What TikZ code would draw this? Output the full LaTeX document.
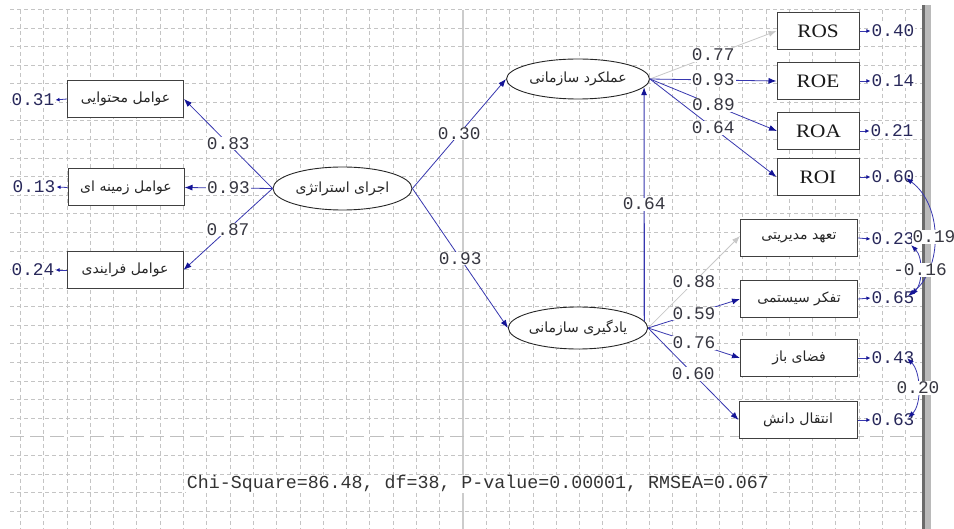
\documentclass[tikz,border=0pt]{standalone}
\usepackage{fontspec}
\newfontfamily\fa[Script=Arabic]{DejaVu Sans}
\newfontfamily\monof{Liberation Mono}
\newfontfamily\rofont[FakeStretch=1.12]{Liberation Serif}
\TeXXeTstate=1
\usetikzlibrary{arrows.meta,shapes.geometric}
\definecolor{pathblue}{RGB}{55,55,175}
\definecolor{tipblue}{RGB}{20,20,150}
\definecolor{lightarr}{RGB}{200,200,200}
\definecolor{gridc}{RGB}{196,196,196}
\definecolor{numc}{RGB}{55,55,65}
\definecolor{errc}{RGB}{40,40,90}
\begin{document}
\begin{tikzpicture}[x=1pt,y=-1pt,
  gridline/.style={gridc, line width=0.8pt, dash pattern=on 4pt off 3pt},
  pbox/.style={draw=black!75, line width=1pt, fill=white, minimum width=116pt, minimum height=37pt, inner sep=0pt, font=\fa\fontsize{14}{16}\selectfont, text=black!85},
  rbox/.style={draw=black!75, line width=1pt, fill=white, minimum width=82pt, minimum height=36.5pt, inner sep=0pt, font=\rofont\fontsize{19}{19}\selectfont, text=black!90},
  lat/.style={ellipse, draw=black!85, line width=0.9pt, fill=white, inner sep=0pt, font=\fa\fontsize{14}{16}\selectfont, text=black!85},
  conn/.style={draw=pathblue, line width=0.8pt, -{Latex[length=8pt,width=6pt,color=tipblue]}},
  connlight/.style={draw=lightarr, line width=0.8pt, -{Latex[length=8pt,width=6pt,color=lightarr]}},
  stub/.style={draw=pathblue, line width=0.8pt, -{Latex[length=4pt,width=4pt,color=tipblue]}},
  corr/.style={draw=pathblue, line width=0.8pt, {Latex[length=7pt,width=5pt,color=tipblue]}-{Latex[length=7pt,width=5pt,color=tipblue]}},
  lab/.style={fill=white, inner xsep=1pt, inner ysep=0.5pt, font=\monof\fontsize{17.8}{18}\selectfont, text=numc},
  err/.style={fill=white, inner xsep=1pt, inner ysep=0.5pt, font=\monof\fontsize{17.8}{18}\selectfont, text=errc}]
\useasboundingbox (0,0) rectangle (954,529);
\fill[white] (0,0) rectangle (954,529);
% grid
\foreach \i in {0,...,22,24,25,26,27}
  \draw[gridline] (10,{9.4+18.58*\i}) -- (922,{9.4+18.58*\i});
\foreach \j in {-19,...,-1,1,2,...,19}
  \draw[gridline] ({463+23.3*\j},10) -- ({463+23.3*\j},529);
\draw[gray!40, line width=1.3pt] (463,10) -- (463,529);
\draw[gray!50, line width=1pt, dash pattern=on 14pt off 6pt] (10,436.7) -- (922,436.7);
% right bar
\fill[black!58] (921.5,5) rectangle (925,529);
\fill[black!27] (925,5) rectangle (931,529);

% latent variables
\node[lat, minimum width=139pt, minimum height=43pt] (ej) at (342.5,188.5) {\beginR اجرای استراتژی\endR};
\node[lat, minimum width=143pt, minimum height=40pt] (aml) at (578,79) {\beginR عملکرد سازمانی\endR};
\node[lat, minimum width=137pt, minimum height=42pt] (yad) at (578,328) {\beginR یادگیری سازمانی\endR};

% left boxes
\node[pbox] (b1) at (125.5,99) {\beginR عوامل محتوایی\endR};
\node[pbox] (b2) at (126,187.5) {\beginR عوامل زمینه ای\endR};
\node[pbox] (b3) at (125,270) {\beginR عوامل فرایندی\endR};

% right upper boxes
\node[rbox] (ros) at (818,31) {ROS};
\node[rbox] (roe) at (818,81) {ROE};
\node[rbox] (roa) at (818.5,131) {ROA};
\node[rbox] (roi) at (818,177) {ROI};

% right lower boxes
\node[pbox, minimum width=117pt] (tah) at (799,238) {\beginR تعهد مدیریتی\endR};
\node[pbox, minimum width=117pt] (taf) at (799,299) {\beginR تفکر سیستمی\endR};
\node[pbox, minimum width=117pt] (faz) at (799,358) {\beginR فضای باز\endR};
\node[pbox, minimum width=118pt] (ent) at (798,420) {\beginR انتقال دانش\endR};

% error values
\node[err] (eb1) at (33,100) {0.31};
\node[err] (eb2) at (34,187) {0.13};
\node[err] (eb3) at (33,270) {0.24};
\node[err] (eros) at (893,31) {0.40};
\node[err] (eroe) at (893,81) {0.14};
\node[err] (eroa) at (892,131) {0.21};
\node[err] (eroi) at (893,177) {0.60};
\node[err] (etah) at (893,239) {0.23};
\node[err] (etaf) at (893,298) {0.65};
\node[err] (efaz) at (893,358) {0.43};
\node[err] (eent) at (893,420) {0.63};

% error stubs
\draw[stub] (b1.west) -- (eb1.east);
\draw[stub] (b2.west) -- (eb2.east);
\draw[stub] (b3.west) -- (eb3.east);
\foreach \b/\e in {ros/eros,roe/eroe,roa/eroa,roi/eroi,tah/etah,taf/etaf,faz/efaz,ent/eent}
  \draw[stub] (\b.east) -- (\e.west);

% structural paths
\draw[conn] (ej.west) -- node[lab] {0.83} (b1.east);
\draw[conn] (ej.west) -- node[lab] {0.93} (b2.east);
\draw[conn] (ej.west) -- node[lab] {0.87} (b3.east);
\draw[conn] (ej.east) -- node[lab] {0.30} (aml.west);
\draw[conn] (ej.east) -- node[lab] {0.93} (yad.west);
\draw[conn, line width=1.1pt] (yad.6) -- node[lab] {0.64} (aml.-7);

% loadings
\draw[connlight] (aml.east) -- node[lab] {0.77} (ros.west);
\draw[conn] (aml.east) -- node[lab] {0.93} (roe.west);
\draw[conn] (aml.east) -- node[lab] {0.89} (roa.west);
\draw[conn] (aml.east) -- node[lab] {0.64} (roi.west);
\draw[connlight] (yad.east) -- node[lab] {0.88} ([yshift=2pt]tah.west);
\draw[conn] (yad.east) -- node[lab] {0.59} (taf.west);
\draw[conn] (yad.east) -- node[lab] {0.76} (faz.west);
\draw[conn] (yad.east) -- node[lab] {0.60} (ent.west);

% error covariances
\draw[corr] ([shift={(13,1)}]eroi.center) .. controls +(37,27) and +(35,-27) .. ([shift={(15,-2)}]etaf.center) node[lab, pos=0.5, inner xsep=0.5pt] {0.19};
\draw[corr] ([shift={(18,6)}]etah.center) .. controls +(12,12) and +(12,-12) .. ([shift={(18,-3)}]etaf.center) node[lab, pos=0.5] {-0.16};
\draw[corr] ([shift={(14,0)}]efaz.center) .. controls +(14,14) and +(14,-14) .. ([shift={(15,-2)}]eent.center) node[lab, pos=0.5] {0.20};

% fit statistics
\node[fill=white, inner xsep=1pt, inner ysep=0.5pt, font=\monof\fontsize{18.3}{19}\selectfont, text=black!80] (chi) at (478,484) {Chi-Square=86.48, df=38, P-value=0.00001, RMSEA=0.067};
\end{tikzpicture}
\end{document}
